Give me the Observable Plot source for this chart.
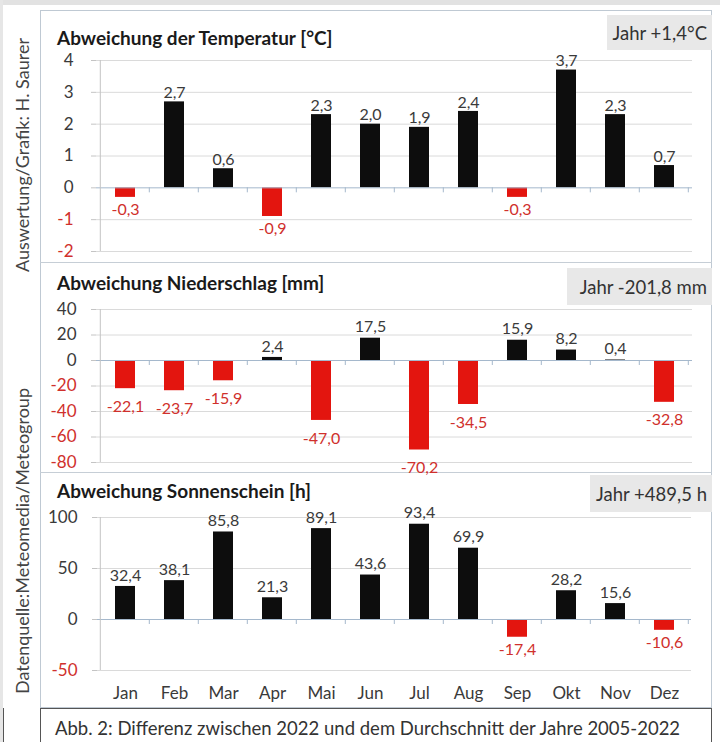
<!DOCTYPE html>
<html><head><meta charset="utf-8">
<script src="https://cdn.jsdelivr.net/npm/d3@7"></script>
<script src="https://cdn.jsdelivr.net/npm/@observablehq/plot@0.6"></script>
<style>
body{margin:0;background:#fff;}
#wrap{position:relative;width:720px;height:742px;overflow:hidden;background:#fff;font-family:Lato,"Open Sans",sans-serif;color:#333;}
.abs{position:absolute;}
.ptitle{position:absolute;left:57px;font-weight:bold;font-size:19px;color:#1a1a1a;white-space:nowrap;line-height:22px;}
.jahr{position:absolute;background:#e8e8e8;font-size:18.5px;color:#333;white-space:nowrap;display:flex;align-items:center;justify-content:flex-end;padding-right:5px;box-sizing:border-box;}
.vtext{position:absolute;font-size:18px;color:#444;white-space:nowrap;transform-origin:0 0;transform:rotate(-90deg);line-height:22px;}
</style></head><body><div id="wrap"></div>
<script>
// ---- data ----
const months = ["Jan","Feb","Mar","Apr","Mai","Jun","Jul","Aug","Sep","Okt","Nov","Dez"];
const tempValues = [-0.3, 2.7, 0.6, -0.9, 2.3, 2.0, 1.9, 2.4, -0.3, 3.7, 2.3, 0.7];
const precipValues = [-22.1, -23.7, -15.9, 2.4, -47.0, 17.5, -70.2, -34.5, 15.9, 8.2, 0.4, -32.8];
const sunValues = [32.4, 38.1, 85.8, 21.3, 89.1, 43.6, 93.4, 69.9, -17.4, 28.2, 15.6, -10.6];
const tempTicks = [-2, -1, 0, 1, 2, 3, 4];
const precipTicks = [-80, -60, -40, -20, 0, 20, 40];
const sunTicks = [-50, 0, 50, 100];
const panelTitles = ["Abweichung der Temperatur [°C]", "Abweichung Niederschlag [mm]", "Abweichung Sonnenschein [h]"];
const yearTotals = ["Jahr +1,4°C", "Jahr -201,8 mm", "Jahr +489,5 h"];
const caption = "Abb. 2: Differenz zwischen 2022 und dem Durchschnitt der Jahre 2005-2022";
const sideTexts = ["Auswertung/Grafik: H. Saurer", "Datenquelle:Meteomedia/Meteogroup"];

// ---- style ----
const RED = "#e3150f", BLACK = "#0d0d0d", RED_TXT = "#d0302c", DARK_TXT = "#3a3a3a";
const GRID = "#dadada", ZERO = "#a5b8cc";
const fmt = v => v.toFixed(1).replace(".", ",");
const wrap = document.getElementById("wrap");

function el(cls, css, text) {
  const d = document.createElement("div");
  d.className = cls;
  Object.assign(d.style, css);
  if (text != null) d.textContent = text;
  wrap.appendChild(d);
  return d;
}

// frame: y-axis line and band-boundary ticks on the zero line
function frameMark(index, scales, values, dims) {
  const g = d3.create("svg:g");
  const x = scales.x, y = scales.y;
  const step = x(months[1]) - x(months[0]);
  const start = x(months[0]) - 0.3 * step;
  const y0 = y(0);
  g.append("line").attr("x1", start).attr("x2", start)
    .attr("y1", dims.marginTop).attr("y2", dims.height - dims.marginBottom)
    .attr("stroke", "#c4c4c4");
  for (let i = 1; i <= months.length; i++) {
    const bx = start + i * step;
    g.append("line").attr("x1", bx).attr("x2", bx).attr("y1", y0).attr("y2", y0 + 5)
      .attr("stroke", ZERO);
  }
  return g.node();
}

function panel({values, ticks, tickPad, posDy, negDy, height, mt, mb, ml, mr, showX}) {
  const data = months.map((m, i) => ({m, v: values[i]}));
  const pos = data.filter(d => d.v >= 0), neg = data.filter(d => d.v < 0);
  const posTicks = ticks.filter(t => t >= 0), negTicks = ticks.filter(t => t < 0);
  return Plot.plot({
    width: 672, height,
    marginTop: mt, marginBottom: mb, marginLeft: ml, marginRight: mr,
    style: {fontFamily: "Lato, 'Open Sans', sans-serif", fontSize: "16px", background: "transparent", overflow: "visible"},
    x: {domain: months, paddingInner: 0.6, paddingOuter: 0.3, axis: null},
    y: {domain: [ticks[0], ticks[ticks.length - 1]], axis: null},
    marks: [
      Plot.gridY(ticks.filter(t => t !== 0), {stroke: GRID, strokeOpacity: 1}),
      Plot.axisY(posTicks, {label: null, tickSize: 5, tickPadding: tickPad, stroke: "#c4c4c4", fill: DARK_TXT, fontSize: 17, tickFormat: d => String(d)}),
      Plot.axisY(negTicks, {label: null, tickSize: 5, tickPadding: tickPad, stroke: "#c4c4c4", fill: RED_TXT, fontSize: 17, tickFormat: d => String(d)}),
      showX ? Plot.axisX({label: null, tickSize: 0, tickPadding: 16, fill: DARK_TXT, fontSize: 17}) : null,
      Plot.barY(pos, {x: "m", y: "v", fill: BLACK}),
      Plot.barY(neg, {x: "m", y: "v", fill: RED}),
      Plot.ruleY([0], {stroke: ZERO}),
      frameMark,
      Plot.text(pos, {x: "m", y: "v", text: d => fmt(d.v), dy: posDy, fill: DARK_TXT}),
      Plot.text(neg, {x: "m", y: "v", text: d => fmt(d.v), dy: negDy, fill: RED_TXT})
    ]
  });
}

// ---- background pieces ----
el("abs", {left: "0px", top: "0px", width: "720px", height: "5px", background: "#e2e2e2"});
el("abs", {left: "0px", top: "0px", width: "3px", height: "742px", background: "#e6e6e6"});
el("abs", {left: "40px", top: "10px", width: "672px", height: "698px", border: "1px solid #bfc9d3", boxSizing: "border-box"});
el("abs", {left: "40px", top: "262px", width: "672px", height: "1px", background: "#c6ced6"});
el("abs", {left: "40px", top: "472px", width: "672px", height: "1px", background: "#c6ced6"});

// ---- panels ----
const specs = [
  {values: tempValues, ticks: tempTicks, tickPad: 18, posDy: -9, negDy: 12, top: 10, height: 252, mt: 50, mb: 11, ml: 56, mr: 20, showX: false},
  {values: precipValues, ticks: precipTicks, tickPad: 15, posDy: -11, negDy: 18, top: 263, height: 209, mt: 46, mb: 10, ml: 56, mr: 20, showX: false},
  {values: sunValues, ticks: sunTicks, tickPad: 15, posDy: -11, negDy: 13, top: 473, height: 235, mt: 44, mb: 38, ml: 57, mr: 21, showX: true}
];
const titleTops = [27, 272, 480];
const jahrBoxes = [
  {left: 607, top: 15, w: 105, h: 35},
  {left: 567, top: 268, w: 145, h: 37},
  {left: 590, top: 475, w: 122, h: 37}
];
specs.forEach((s, i) => {
  const holder = el("abs", {left: "40px", top: s.top + "px"});
  holder.appendChild(panel(s));
  el("ptitle", {top: titleTops[i] + "px"}, panelTitles[i]);
  const b = jahrBoxes[i];
  el("jahr", {left: b.left + "px", top: b.top + "px", width: b.w + "px", height: b.h + "px"}, yearTotals[i]);
});

// ---- caption ----
el("abs", {left: "40px", top: "708px", width: "672px", height: "40px", border: "1.5px solid #555", boxSizing: "border-box", background: "#fff"});
el("abs", {left: "55px", top: "717px", fontSize: "18.5px", color: "#333", whiteSpace: "nowrap", lineHeight: "22px"}, caption);
el("abs", {left: "3px", top: "708px", width: "1px", height: "40px", background: "#555"});

// ---- side texts ----
el("vtext", {left: "11px", top: "272px"}, sideTexts[0]);
el("vtext", {left: "11px", top: "694px"}, sideTexts[1]);
</script></body></html>
